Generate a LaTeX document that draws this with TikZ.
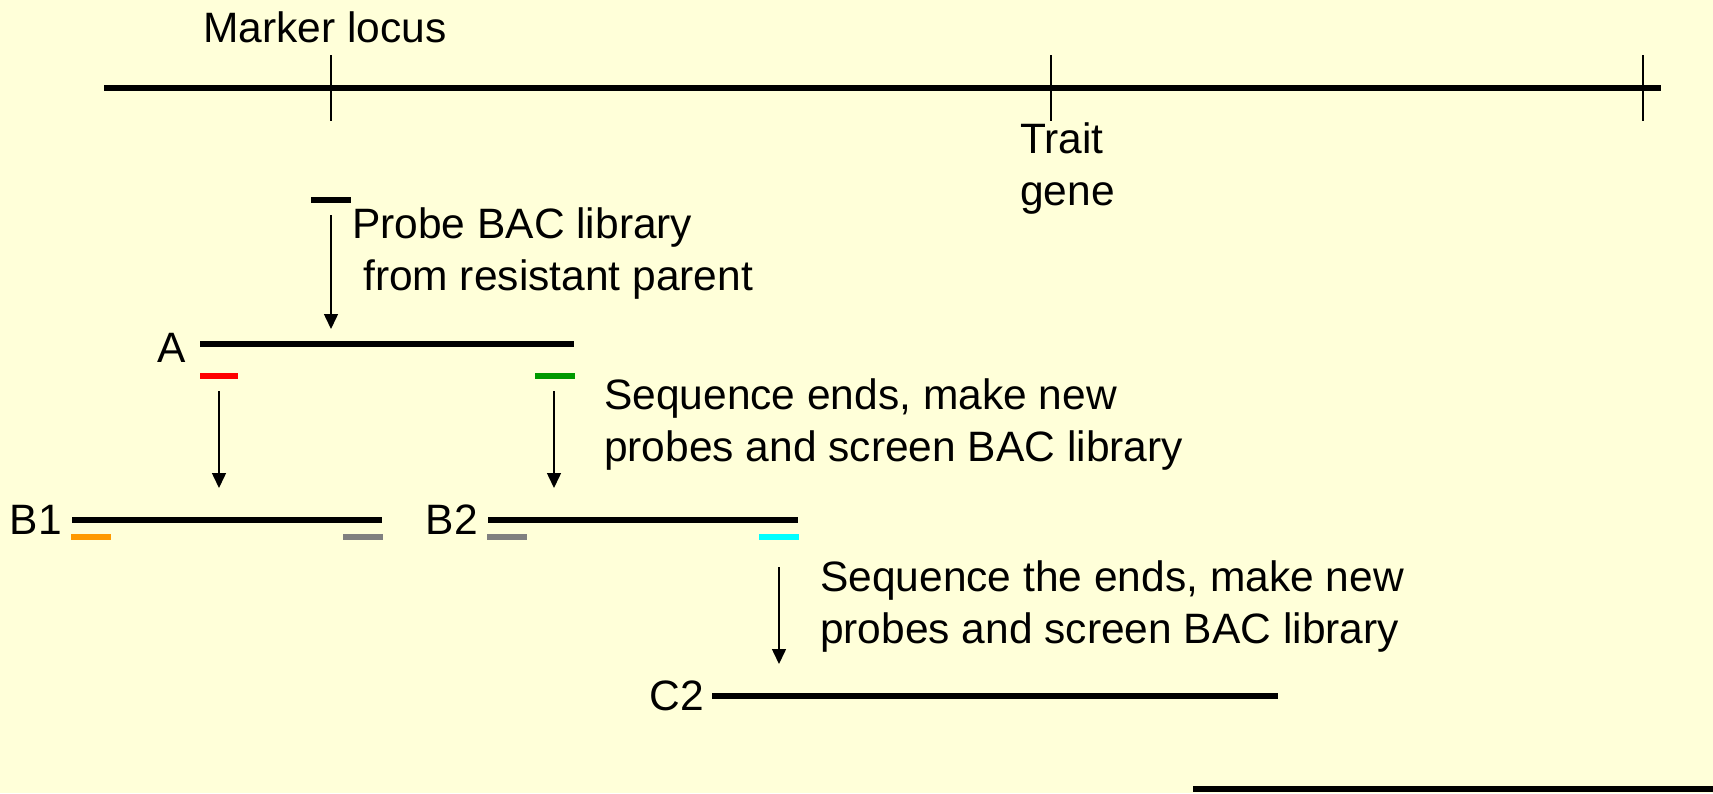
\documentclass[tikz,border=0pt]{standalone}
\usepackage{fontspec}
\setmainfont{Liberation Sans}
\usetikzlibrary{arrows.meta}
\definecolor{bg}{RGB}{255,255,217}
\definecolor{probered}{RGB}{255,0,0}
\definecolor{probegreen}{RGB}{0,153,0}
\definecolor{probeorange}{RGB}{255,153,0}
\definecolor{probegray}{RGB}{128,128,128}
\definecolor{probecyan}{RGB}{0,255,255}
\begin{document}
\begin{tikzpicture}[x=1pt,y=-1pt,
  clone/.style={line width=6pt},
  probebar/.style={line width=6pt},
  tickmark/.style={line width=1.5pt},
  steparrow/.style={line width=1.5pt,-{Triangle[length=15pt,width=14pt]}},
  lbl/.style={inner sep=0pt,anchor=base west,font=\fontsize{42.5}{52}\selectfont,align=left},
  rlbl/.style={inner sep=0pt,anchor=base east,font=\fontsize{42.5}{52}\selectfont}]
\fill[bg] (0,0) rectangle (1713,793);
\useasboundingbox (0,0) rectangle (1713,793);

% chromosome line
\coordinate (chrL) at (104,88);
\coordinate (chrR) at (1661,88);
\draw[clone] (chrL) -- (chrR);
\coordinate (t1a) at (331,55); \coordinate (t1b) at (331,121);
\coordinate (t2a) at (1051,55); \coordinate (t2b) at (1051,121);
\coordinate (t3a) at (1643,55); \coordinate (t3b) at (1643,121);
\draw[tickmark] (t1a) -- (t1b);
\draw[tickmark] (t2a) -- (t2b);
\draw[tickmark] (t3a) -- (t3b);
\node[lbl] (marker) at (203,42) {Marker locus};
\node[lbl] (trait) at (1020,205) {Trait\\gene};

% probe
\coordinate (prL) at (311,200); \coordinate (prR) at (351,200);
\draw[probebar] (prL) -- (prR);
\coordinate (ar1s) at (331,215); \coordinate (ar1e) at (331,329);
\draw[steparrow] (ar1s) -- (ar1e);
\node[lbl] (probetxt) at (352,290) {Probe BAC library\\\hspace*{11pt}from resistant parent};

% clone A
\node[rlbl] (labA) at (186,362) {A};
\coordinate (AL) at (200,344); \coordinate (AR) at (574,344);
\draw[clone] (AL) -- (AR);
\coordinate (redL) at (200,376); \coordinate (redR) at (238,376);
\draw[probebar,probered] (redL) -- (redR);
\coordinate (grnL) at (535,376); \coordinate (grnR) at (575,376);
\draw[probebar,probegreen] (grnL) -- (grnR);
\coordinate (ar2s) at (219,391); \coordinate (ar2e) at (219,488);
\draw[steparrow] (ar2s) -- (ar2e);
\coordinate (ar3s) at (554,391); \coordinate (ar3e) at (554,488);
\draw[steparrow] (ar3s) -- (ar3e);
\node[lbl] (seq1) at (604,461) {Sequence ends, make new\\probes and screen BAC library};

% clones B1, B2
\node[rlbl] (labB1) at (62,534) {B1};
\coordinate (B1L) at (72,520); \coordinate (B1R) at (382,520);
\draw[clone] (B1L) -- (B1R);
\coordinate (orL) at (71,537); \coordinate (orR) at (111,537);
\draw[probebar,probeorange] (orL) -- (orR);
\coordinate (gy1L) at (343,537); \coordinate (gy1R) at (383,537);
\draw[probebar,probegray] (gy1L) -- (gy1R);

\node[rlbl] (labB2) at (478,534) {B2};
\coordinate (B2L) at (488,520); \coordinate (B2R) at (798,520);
\draw[clone] (B2L) -- (B2R);
\coordinate (gy2L) at (487,537); \coordinate (gy2R) at (527,537);
\draw[probebar,probegray] (gy2L) -- (gy2R);
\coordinate (cyL) at (759,537); \coordinate (cyR) at (799,537);
\draw[probebar,probecyan] (cyL) -- (cyR);

\coordinate (ar4s) at (779,567); \coordinate (ar4e) at (779,664);
\draw[steparrow] (ar4s) -- (ar4e);
\node[lbl] (seq2) at (820,643) {Sequence the ends, make new\\probes and screen BAC library};

% clone C2
\node[rlbl] (labC2) at (704,710) {C2};
\coordinate (C2L) at (712,696); \coordinate (C2R) at (1278,696);
\draw[clone] (C2L) -- (C2R);

% bottom line
\coordinate (botL) at (1193,789); \coordinate (botR) at (1713,789);
\draw[clone] (botL) -- (botR);
\end{tikzpicture}
\end{document}
